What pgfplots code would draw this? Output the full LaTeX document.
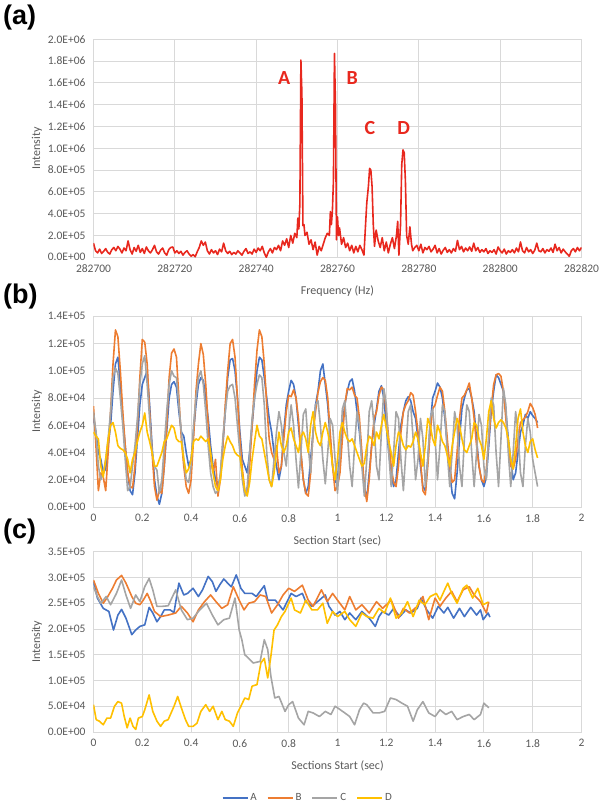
\documentclass[border=0pt]{standalone}
\usepackage{fontspec}
\setmainfont{Carlito}
\newfontfamily\panelfont{Liberation Sans}
\usepackage{pgfplots}
\usepackage{pgfplotstable}
\pgfplotsset{compat=1.18}
\definecolor{gridc}{HTML}{D9D9D9}
\definecolor{labc}{HTML}{595959}
\definecolor{sA}{HTML}{4472C4}
\definecolor{sB}{HTML}{ED7D31}
\definecolor{sC}{HTML}{A5A5A5}
\definecolor{sD}{HTML}{FFC000}
\definecolor{specred}{HTML}{E8281E}

\pgfplotsset{
  excel/.style={
    scale only axis,
    width=488pt,
    grid=major,
    major grid style={draw=gridc, line width=0.9pt},
    axis line style={draw=gridc, line width=0.9pt},
    major tick length=0pt,
    tick style={draw=none},
    scaled ticks=false,
    ticklabel style={font=\fontsize{11.5}{13}\selectfont, text=labc},
    yticklabel style={xshift=-4.5pt},
    xticklabel style={yshift=-4pt},
    xlabel style={font=\fontsize{12}{14}\selectfont, text=labc, at={(axis description cs:0.5,0)}, anchor=center, yshift=-34pt},
    ylabel style={font=\fontsize{12}{14}\selectfont, text=labc, at={(axis description cs:-0.1158,0.5)}, anchor=center},
    every axis plot/.append style={line width=1.6pt, line join=round, no markers},
  }
}

\pgfplotstableread{
t A B C D
0.00 65000 74000 70000 55000
0.01 55000 45000 55000 52000
0.02 40000 12000 30000 50000
0.03 35000 25000 20000 30000
0.04 25000 22000 25000 22000
0.05 28000 12000 35000 35000
0.06 45000 40000 50000 50000
0.07 60000 70000 70000 60000
0.08 85000 105000 95000 62000
0.09 105000 130000 102000 55000
0.10 110000 125000 98000 45000
0.11 90000 100000 80000 43000
0.12 65000 70000 60000 42000
0.13 45000 45000 35000 40000
0.14 25000 25000 12000 35000
0.15 12000 15000 15000 25000
0.16 9000 14000 30000 35000
0.17 25000 30000 45000 40000
0.18 50000 60000 65000 48000
0.19 75000 95000 90000 55000
0.20 90000 123000 105000 60000
0.21 95000 121000 111000 69000
0.22 100000 105000 90000 55000
0.23 75000 70000 65000 48000
0.24 45000 40000 40000 40000
0.25 20000 15000 30000 30000
0.26 8000 5000 27000 30000
0.27 2000 12000 10000 35000
0.28 10000 10000 20000 40000
0.29 30000 30000 45000 48000
0.30 55000 60000 70000 50000
0.31 80000 95000 90000 55000
0.32 90000 113000 100000 60000
0.33 92000 116000 96000 58000
0.34 88000 110000 95000 50000
0.35 70000 80000 75000 48000
0.36 55000 50000 55000 48000
0.37 52000 30000 35000 35000
0.38 40000 15000 20000 25000
0.39 30000 10000 18000 28000
0.40 35000 20000 30000 35000
0.41 55000 50000 60000 48000
0.42 75000 85000 80000 50000
0.43 90000 105000 95000 49000
0.44 95000 120000 100000 52000
0.45 93000 112000 90000 50000
0.46 80000 90000 70000 48000
0.47 65000 60000 45000 50000
0.48 45000 35000 25000 40000
0.49 30000 25000 15000 25000
0.50 20000 35000 10000 15000
0.51 15000 8000 12000 12000
0.52 22000 20000 25000 20000
0.53 45000 45000 50000 35000
0.54 70000 75000 70000 45000
0.55 95000 100000 85000 52000
0.56 108000 120000 89000 48000
0.57 109000 123000 90000 45000
0.58 100000 110000 80000 40000
0.59 80000 80000 60000 38000
0.60 55000 50000 40000 37000
0.61 35000 28000 20000 25000
0.62 30000 12000 8000 12000
0.63 25000 10000 15000 8000
0.64 40000 30000 40000 18000
0.65 60000 60000 65000 35000
0.66 80000 90000 80000 48000
0.67 100000 115000 90000 60000
0.68 110000 130000 97000 52000
0.69 108000 125000 95000 50000
0.70 95000 105000 75000 40000
0.71 80000 75000 40000 30000
0.72 65000 50000 20000 20000
0.73 55000 40000 15000 15000
0.74 40000 35000 35000 25000
0.75 30000 45000 55000 40000
0.76 20000 25000 70000 55000
0.77 30000 30000 60000 45000
0.78 55000 50000 40000 40000
0.79 75000 70000 30000 45000
0.80 85000 82000 55000 55000
0.81 93000 81000 75000 58000
0.82 90000 86000 60000 50000
0.83 80000 80000 35000 45000
0.84 60000 65000 14000 40000
0.85 40000 40000 40000 52000
0.86 20000 20000 68000 55000
0.87 10000 10000 72000 50000
0.88 15000 8000 45000 40000
0.89 35000 25000 25000 60000
0.90 55000 55000 55000 70000
0.91 75000 70000 75000 55000
0.92 85000 84000 78000 48000
0.93 100000 92000 60000 45000
0.94 105000 95000 35000 55000
0.95 90000 93000 17000 62000
0.96 75000 80000 40000 55000
0.97 50000 55000 65000 45000
0.98 30000 30000 60000 30000
0.99 18000 12000 35000 20000
1.00 20000 15000 10000 35000
1.01 40000 25000 40000 55000
1.02 60000 50000 72000 62000
1.03 75000 75000 78000 55000
1.04 85000 87000 55000 50000
1.05 92000 86000 30000 48000
1.06 94000 88000 15000 50000
1.07 85000 82000 45000 45000
1.08 70000 80000 70000 40000
1.09 55000 65000 60000 35000
1.10 35000 40000 30000 30000
1.11 15000 15000 8000 32000
1.12 6000 4000 35000 45000
1.13 25000 20000 70000 52000
1.14 45000 45000 78000 50000
1.15 60000 65000 60000 45000
1.16 72000 70000 30000 55000
1.17 85000 82000 20000 50000
1.18 89000 88000 55000 60000
1.19 80000 86000 87000 68000
1.20 60000 70000 75000 58000
1.21 40000 50000 40000 48000
1.22 25000 30000 15000 40000
1.23 15000 18000 40000 30000
1.24 20000 15000 70000 45000
1.25 40000 30000 65000 55000
1.26 60000 55000 35000 52000
1.27 70000 70000 12000 45000
1.28 78000 75000 40000 42000
1.29 81000 78000 70000 45000
1.30 78000 84000 75000 44000
1.31 70000 82000 50000 48000
1.32 65000 70000 20000 55000
1.33 50000 55000 35000 50000
1.34 30000 35000 65000 40000
1.35 15000 12000 50000 30000
1.36 12000 9000 15000 45000
1.37 35000 30000 35000 65000
1.38 60000 55000 65000 60000
1.39 80000 72000 72000 50000
1.40 85000 75000 50000 45000
1.41 91000 82000 20000 60000
1.42 88000 88000 45000 55000
1.43 80000 85000 75000 48000
1.44 65000 70000 70000 45000
1.45 45000 50000 40000 38000
1.46 25000 30000 15000 30000
1.47 10000 18000 40000 45000
1.48 6000 20000 70000 55000
1.49 25000 40000 60000 65000
1.50 50000 65000 30000 60000
1.51 72000 80000 15000 50000
1.52 80000 82000 50000 42000
1.53 86000 86000 75000 40000
1.54 87000 91000 70000 45000
1.55 80000 80000 40000 50000
1.56 70000 65000 15000 62000
1.57 50000 45000 40000 60000
1.58 30000 30000 68000 50000
1.59 20000 20000 60000 45000
1.60 15000 18000 30000 35000
1.61 22000 28000 20000 50000
1.62 45000 50000 55000 70000
1.63 70000 72000 80000 78000
1.64 85000 90000 75000 65000
1.65 97000 97000 40000 58000
1.66 95000 98000 15000 62000
1.67 90000 96000 50000 64000
1.68 85000 85000 87000 62000
1.69 70000 65000 75000 58000
1.70 50000 45000 40000 50000
1.71 35000 30000 15000 35000
1.72 20000 28000 40000 28000
1.73 25000 35000 70000 45000
1.74 40000 50000 55000 65000
1.75 55000 62000 25000 72000
1.76 60000 64000 15000 55000
1.77 68000 66000 45000 45000
1.78 65000 70000 65000 40000
1.79 70000 76000 55000 48000
1.80 67000 73000 35000 50000
1.81 65000 68000 25000 42000
1.82 62000 58000 15000 36000
}\tblb

\begin{document}
\begin{tikzpicture}
\useasboundingbox (0pt,0pt) rectangle (600pt,807pt);

% ---------------- panel (a)
\begin{axis}[excel, at={(93.5pt,549.7pt)}, anchor=south west, height=218pt,
  xmin=282700, xmax=282820, ymin=0, ymax=2000000,
  xtick={282700,282720,282740,282760,282780,282800,282820},
  xticklabels={282700,282720,282740,282760,282780,282800,282820},
  ytick={0,200000,400000,600000,800000,1000000,1200000,1400000,1600000,1800000,2000000},
  yticklabels={0.0E+00,2.0E+05,4.0E+05,6.0E+05,8.0E+05,1.0E+06,1.2E+06,1.4E+06,1.6E+06,1.8E+06,2.0E+06},
  xlabel={Frequency (Hz)}, ylabel={Intensity}]
\addplot[specred, line width=1.6pt] table {
282700 130000
282700.5 60000
282701 40000
282701.5 75000
282702 35000
282702.5 55000
282703 80000
282703.5 45000
282704 30000
282704.5 70000
282705 90000
282705.5 60000
282706 100000
282706.5 75000
282707 40000
282707.5 85000
282708 60000
282708.5 150000
282709 70000
282709.5 30000
282710 90000
282710.5 55000
282711 110000
282711.5 45000
282712 80000
282712.5 35000
282713 95000
282713.5 60000
282714 40000
282714.5 70000
282715 110000
282715.5 50000
282716 30000
282716.5 65000
282717 85000
282717.5 40000
282718 20000
282718.5 70000
282719 90000
282719.5 95000
282720 40000
282720.5 60000
282721 35000
282721.5 55000
282722 20000
282722.5 45000
282723 60000
282723.5 30000
282724 10000
282724.5 25000
282725 5000
282725.5 50000
282726 90000
282726.5 150000
282727 110000
282727.5 140000
282728 60000
282728.5 30000
282729 70000
282729.5 40000
282730 60000
282730.5 25000
282731 75000
282731.5 50000
282732 130000
282732.5 60000
282733 35000
282733.5 55000
282734 25000
282734.5 45000
282735 30000
282735.5 60000
282736 40000
282736.5 20000
282737 55000
282737.5 80000
282738 35000
282738.5 50000
282739 30000
282739.5 75000
282740 45000
282740.5 85000
282741 60000
282741.5 100000
282742 40000
282742.5 0
282743 50000
282743.5 80000
282744 40000
282744.5 90000
282745 70000
282745.5 110000
282746 60000
282746.5 150000
282747 110000
282747.5 170000
282748 90000
282748.5 200000
282749 130000
282749.5 220000
282750 180000
282750.25 360000
282750.5 260000
282750.75 500000
282751 1810000
282751.25 1500000
282751.5 290000
282751.75 300000
282752 200000
282752.5 230000
282753 120000
282753.5 160000
282754 70000
282754.5 140000
282755 20000
282755.5 100000
282756 60000
282756.5 120000
282757 180000
282757.5 220000
282758 200000
282758.25 420000
282758.5 300000
282758.75 430000
282759 700000
282759.25 1870000
282759.5 1400000
282759.75 160000
282760 370000
282760.25 200000
282760.5 270000
282761 120000
282761.5 180000
282762 90000
282762.5 130000
282763 60000
282763.5 110000
282764 40000
282764.5 100000
282765 50000
282765.5 110000
282766 70000
282766.5 20000
282766.9 300000
282767.2 500000
282767.6 650000
282767.9 816000
282768.2 800000
282768.5 650000
282768.8 300000
282769.1 100000
282769.5 250000
282770 150000
282770.5 90000
282771 180000
282771.5 60000
282772 140000
282772.5 40000
282773 120000
282773.5 180000
282774 80000
282774.5 200000
282774.8 330000
282775.1 20000
282775.5 300000
282775.8 850000
282776.1 985000
282776.4 960000
282776.7 700000
282777 200000
282777.4 120000
282777.8 280000
282778.2 120000
282778.5 60000
282779 90000
282779.5 110000
282780 60000
282780.5 120000
282781 40000
282781.5 90000
282782 70000
282782.5 100000
282783 50000
282783.5 75000
282784 110000
282784.5 40000
282785 80000
282785.5 30000
282786 65000
282786.5 90000
282787 45000
282787.5 70000
282788 40000
282788.5 80000
282789 55000
282789.5 155000
282790 70000
282790.5 100000
282791 50000
282791.5 85000
282792 60000
282792.5 95000
282793 55000
282793.5 130000
282794 60000
282794.5 90000
282795 45000
282795.5 70000
282796 50000
282796.5 80000
282797 35000
282797.5 60000
282798 45000
282798.5 70000
282799 30000
282799.5 95000
282800 60000
282800.5 40000
282801 75000
282801.5 30000
282802 60000
282802.5 45000
282803 70000
282803.5 40000
282804 85000
282804.5 50000
282805 140000
282805.5 60000
282806 40000
282806.5 90000
282807 50000
282807.5 70000
282808 35000
282808.5 65000
282809 130000
282809.5 60000
282810 50000
282810.5 80000
282811 40000
282811.5 70000
282812 55000
282812.5 85000
282813 45000
282813.5 120000
282814 60000
282814.5 90000
282815 40000
282815.5 75000
282816 50000
282816.5 30000
282817 10000
282817.5 60000
282818 80000
282818.5 50000
282819 90000
282819.5 60000
282820 90000
};
\node[font=\bfseries\fontsize{20}{22}\selectfont, text=specred] at (axis cs:282746.9,1642000) {A};
\node[font=\bfseries\fontsize{20}{22}\selectfont, text=specred] at (axis cs:282763.6,1642000) {B};
\node[font=\bfseries\fontsize{20}{22}\selectfont, text=specred] at (axis cs:282768.0,1190000) {C};
\node[font=\bfseries\fontsize{20}{22}\selectfont, text=specred] at (axis cs:282776.3,1190000) {D};
\end{axis}

% ---------------- panel (b)
\begin{axis}[excel, at={(93.5pt,300pt)}, anchor=south west, height=190.7pt,
  xmin=0, xmax=2, ymin=0, ymax=140000,
  xtick={0,0.2,0.4,0.6,0.8,1,1.2,1.4,1.6,1.8,2},
  xticklabels={0,0.2,0.4,0.6,0.8,1,1.2,1.4,1.6,1.8,2},
  ytick={0,20000,40000,60000,80000,100000,120000,140000},
  yticklabels={0.0E+00,2.0E+04,4.0E+04,6.0E+04,8.0E+04,1.0E+05,1.2E+05,1.4E+05},
  xlabel={Section Start (sec)}, ylabel={Intensity}]
\addplot[sA] table[x=t,y=A] {\tblb};
\addplot[sB] table[x=t,y=B] {\tblb};
\addplot[sC] table[x=t,y=C] {\tblb};
\addplot[sD] table[x=t,y=D] {\tblb};
\end{axis}

% ---------------- panel (c)
\begin{axis}[excel, at={(93.5pt,75pt)}, anchor=south west, height=180.3pt,
  xmin=0, xmax=2, ymin=0, ymax=350000,
  xtick={0,0.2,0.4,0.6,0.8,1,1.2,1.4,1.6,1.8,2},
  xticklabels={0,0.2,0.4,0.6,0.8,1,1.2,1.4,1.6,1.8,2},
  ytick={0,50000,100000,150000,200000,250000,300000,350000},
  yticklabels={0.0E+00,5.0E+04,1.0E+05,1.5E+05,2.0E+05,2.5E+05,3.0E+05,3.5E+05},
  xlabel={Sections Start (sec)}, ylabel={Intensity},
  legend columns=4,
  legend style={at={(axis description cs:0.439,-0.364)}, anchor=center, draw=none, fill=none,
    font=\fontsize{11}{13}\selectfont,
    /tikz/every odd column/.append style={column sep=0pt},
    /tikz/every even column/.append style={column sep=8pt}},
  legend image code/.code={\draw[line width=1.8pt,#1] (0pt,0pt) -- (25pt,0pt);}]
\addplot[sA] coordinates {(0,292000) (0.016,260000) (0.04,240000) (0.063,234000) (0.082,198000) (0.1,227000) (0.115,238000) (0.133,221000) (0.157,189000) (0.173,198000) (0.19,205000) (0.21,208000) (0.228,242000) (0.243,231000) (0.26,214000) (0.275,224000) (0.29,237000) (0.314,237000) (0.33,232000) (0.35,289000) (0.37,266000) (0.385,269000) (0.408,279000) (0.43,263000) (0.447,276000) (0.47,302000) (0.487,292000) (0.502,273000) (0.518,286000) (0.534,297000) (0.55,289000) (0.565,282000) (0.585,305000) (0.604,279000) (0.62,269000) (0.65,269000) (0.667,263000) (0.7,284000) (0.714,256000) (0.745,256000) (0.777,237000) (0.81,269000) (0.83,263000) (0.856,269000) (0.87,253000) (0.895,244000) (0.918,253000) (0.95,266000) (0.965,244000) (0.99,227000) (1.01,234000) (1.03,218000) (1.05,231000) (1.075,218000) (1.1,234000) (1.13,221000) (1.155,205000) (1.17,224000) (1.185,234000) (1.21,227000) (1.23,240000) (1.255,224000) (1.28,237000) (1.3,231000) (1.327,240000) (1.342,260000) (1.366,237000) (1.39,221000) (1.413,244000) (1.436,231000) (1.452,242000) (1.476,221000) (1.5,240000) (1.52,224000) (1.546,242000) (1.57,227000) (1.586,237000) (1.597,218000) (1.617,231000) (1.625,223000)};
\addlegendentry{\textcolor{labc}{A}}
\addplot[sB] coordinates {(0,295000) (0.02,269000) (0.04,250000) (0.055,260000) (0.078,279000) (0.094,295000) (0.115,304000) (0.133,289000) (0.157,263000) (0.173,250000) (0.19,247000) (0.204,256000) (0.22,269000) (0.235,253000) (0.25,234000) (0.275,224000) (0.306,227000) (0.337,231000) (0.36,244000) (0.385,231000) (0.408,214000) (0.43,237000) (0.455,253000) (0.48,266000) (0.502,253000) (0.526,240000) (0.55,247000) (0.573,282000) (0.597,256000) (0.617,237000) (0.636,250000) (0.66,253000) (0.683,266000) (0.706,263000) (0.73,231000) (0.754,247000) (0.777,266000) (0.8,279000) (0.824,273000) (0.856,285000) (0.88,256000) (0.9,244000) (0.934,276000) (0.958,253000) (0.98,269000) (1.0,256000) (1.03,237000) (1.05,263000) (1.075,237000) (1.1,247000) (1.13,231000) (1.16,253000) (1.185,240000) (1.22,256000) (1.25,221000) (1.27,240000) (1.295,231000) (1.327,244000) (1.35,263000) (1.374,218000) (1.4,260000) (1.42,244000) (1.444,260000) (1.468,273000) (1.49,253000) (1.515,276000) (1.54,282000) (1.56,266000) (1.586,253000) (1.61,231000) (1.62,253000)};
\addlegendentry{\textcolor{labc}{B}}
\addplot[sC] coordinates {(0,282000) (0.016,263000) (0.03,250000) (0.052,263000) (0.07,247000) (0.094,269000) (0.115,295000) (0.133,266000) (0.152,240000) (0.173,266000) (0.19,253000) (0.21,282000) (0.228,298000) (0.243,276000) (0.26,244000) (0.283,244000) (0.306,245000) (0.337,276000) (0.36,237000) (0.385,218000) (0.408,221000) (0.43,234000) (0.463,250000) (0.487,227000) (0.51,208000) (0.534,218000) (0.557,221000) (0.58,260000) (0.597,198000) (0.608,179000) (0.62,150000) (0.636,143000) (0.655,134000) (0.683,137000) (0.7,179000) (0.714,160000) (0.727,108000) (0.743,66000) (0.76,69000) (0.785,40000) (0.8,53000) (0.816,59000) (0.84,27000) (0.863,14000) (0.88,40000) (0.9,37000) (0.926,30000) (0.95,40000) (0.973,34000) (0.99,50000) (1.0,47000) (1.03,37000) (1.05,30000) (1.07,14000) (1.09,43000) (1.107,56000) (1.12,53000) (1.146,37000) (1.17,37000) (1.193,40000) (1.217,66000) (1.24,63000) (1.264,56000) (1.287,50000) (1.31,21000) (1.327,43000) (1.35,59000) (1.374,37000) (1.4,30000) (1.42,43000) (1.444,34000) (1.468,40000) (1.49,24000) (1.515,30000) (1.54,34000) (1.56,24000) (1.586,34000) (1.6,56000) (1.62,47000)};
\addlegendentry{\textcolor{labc}{C}}
\addplot[sD] coordinates {(0,53000) (0.011,24000) (0.024,21000) (0.04,14000) (0.055,27000) (0.07,27000) (0.086,50000) (0.1,59000) (0.115,56000) (0.126,30000) (0.138,8000) (0.15,27000) (0.162,11000) (0.173,5000) (0.184,27000) (0.2,30000) (0.21,43000) (0.228,72000) (0.243,40000) (0.26,21000) (0.275,11000) (0.29,21000) (0.306,24000) (0.33,50000) (0.345,69000) (0.36,47000) (0.377,24000) (0.39,11000) (0.408,11000) (0.424,17000) (0.44,40000) (0.46,53000) (0.476,40000) (0.49,50000) (0.51,24000) (0.526,40000) (0.54,24000) (0.557,21000) (0.573,11000) (0.59,37000) (0.604,50000) (0.62,66000) (0.636,63000) (0.65,89000) (0.67,92000) (0.686,134000) (0.7,143000) (0.714,105000) (0.727,147000) (0.74,198000) (0.754,208000) (0.77,224000) (0.785,234000) (0.81,260000) (0.824,237000) (0.848,231000) (0.87,256000) (0.895,237000) (0.918,237000) (0.94,250000) (0.958,211000) (0.98,234000) (1.0,224000) (1.03,234000) (1.05,218000) (1.075,205000) (1.1,231000) (1.12,224000) (1.146,221000) (1.17,240000) (1.193,231000) (1.217,260000) (1.24,221000) (1.264,231000) (1.287,253000) (1.31,224000) (1.335,256000) (1.358,247000) (1.38,263000) (1.405,269000) (1.42,256000) (1.436,273000) (1.452,289000) (1.468,269000) (1.49,250000) (1.515,279000) (1.53,285000) (1.554,260000) (1.575,279000) (1.597,247000) (1.617,252000)};
\addlegendentry{\textcolor{labc}{D}}
\end{axis}

% panel letters
\node[font=\panelfont\bfseries\fontsize{27}{30}\selectfont, anchor=west, inner sep=0pt] at (3pt,789pt) {(a)};
\node[font=\panelfont\bfseries\fontsize{27}{30}\selectfont, anchor=west, inner sep=0pt] at (3pt,510pt) {(b)};
\node[font=\panelfont\bfseries\fontsize{27}{30}\selectfont, anchor=west, inner sep=0pt] at (3pt,275pt) {(c)};
\end{tikzpicture}
\end{document}
